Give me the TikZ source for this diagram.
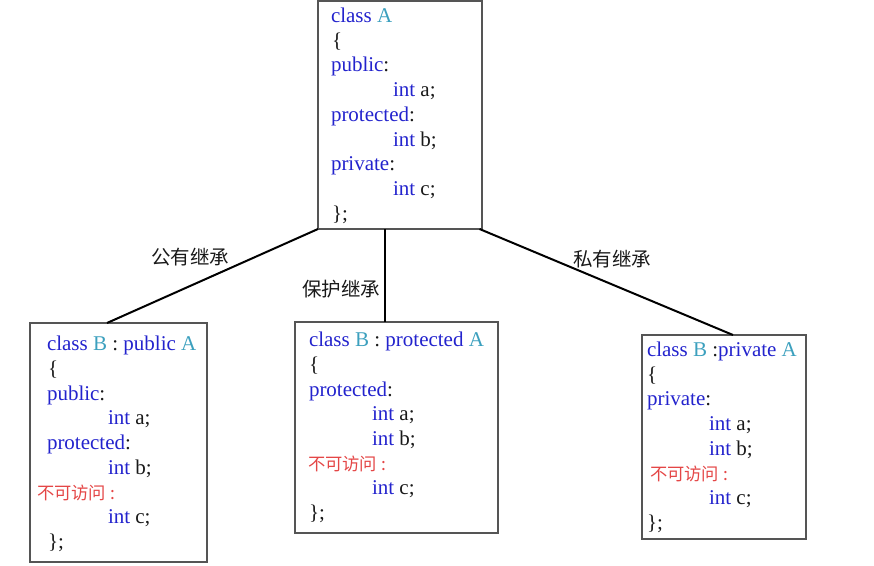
\documentclass[tikz,border=0pt]{standalone}
\usepackage{fontspec}
\setmainfont{Liberation Serif}
\newfontfamily\cjk{Noto Sans CJK SC}
\usetikzlibrary{calc}
\definecolor{kwc}{RGB}{35,35,205}
\definecolor{clsc}{RGB}{60,160,190}
\definecolor{inac}{RGB}{228,70,70}
\definecolor{txtc}{RGB}{25,25,25}
\definecolor{boxc}{RGB}{85,85,85}
\newcommand\KW[1]{\textcolor{kwc}{#1}}
\newcommand\CL[1]{\textcolor{clsc}{#1}}
\tikzset{
  classbox/.style={draw=boxc, line width=1.4pt, inner sep=0pt, outer sep=0pt, anchor=north west},
  codeline/.style={anchor=base west, inner sep=0pt, outer sep=0pt, text=txtc, font=\fontsize{21}{25}\selectfont},
  noaccess/.style={anchor=base west, inner sep=0pt, outer sep=0pt, text=inac, font=\cjk\fontsize{17.3}{20}\selectfont},
  edgelabel/.style={inner sep=0pt, text=txtc, font=\cjk\fontsize{19.5}{22}\selectfont},
  link/.style={draw=black, line width=2pt}
}
\begin{document}
\begin{tikzpicture}[x=1pt,y=-1pt]
\useasboundingbox (0,0) rectangle (874,565);
% boxes
\node[classbox, minimum width=164pt, minimum height=228pt] (A) at (318,1) {};
\node[classbox, minimum width=177pt, minimum height=239pt] (B1) at (30,323) {};
\node[classbox, minimum width=203pt, minimum height=211pt] (B2) at (295,322) {};
\node[classbox, minimum width=164pt, minimum height=204pt] (B3) at (642,335) {};
% class A
\node[codeline] (a1) at (331,22) {\KW{class} \CL{A}};
\node[codeline] (a2) at (332,47) {\{};
\node[codeline] (a3) at (331,71) {\KW{public}:};
\node[codeline] (a4) at (393,96) {\KW{int} a;};
\node[codeline] (a5) at (331,121) {\KW{protected}:};
\node[codeline] (a6) at (393,146) {\KW{int} b;};
\node[codeline] (a7) at (331,170) {\KW{private}:};
\node[codeline] (a8) at (393,195) {\KW{int} c;};
\node[codeline] (a9) at (332,220) {\};};
% B public
\node[codeline] (b1) at (47,350) {\KW{class} \CL{B} : \KW{public} \CL{A}};
\node[codeline] (b2) at (48,375) {\{};
\node[codeline] (b3) at (47,400) {\KW{public}:};
\node[codeline] (b4) at (108,424) {\KW{int} a;};
\node[codeline] (b5) at (47,449) {\KW{protected}:};
\node[codeline] (b6) at (108,474) {\KW{int} b;};
\node[noaccess] (b7) at (37,499) {不可访问 :};
\node[codeline] (b8) at (108,523) {\KW{int} c;};
\node[codeline] (b9) at (48,548) {\};};
% B protected
\node[codeline] (c1) at (309,346) {\KW{class} \CL{B} : \KW{protected} \CL{A}};
\node[codeline] (c2) at (309,371) {\{};
\node[codeline] (c3) at (309,396) {\KW{protected}:};
\node[codeline] (c4) at (372,420) {\KW{int} a;};
\node[codeline] (c5) at (372,445) {\KW{int} b;};
\node[noaccess] (c6) at (308,470) {不可访问 :};
\node[codeline] (c7) at (372,494) {\KW{int} c;};
\node[codeline] (c8) at (309,519) {\};};
% B private
\node[codeline] (d1) at (647,356) {\KW{class} \CL{B} :\KW{private} \CL{A}};
\node[codeline] (d2) at (647,381) {\{};
\node[codeline] (d3) at (647,405) {\KW{private}:};
\node[codeline] (d4) at (709,430) {\KW{int} a;};
\node[codeline] (d5) at (709,455) {\KW{int} b;};
\node[noaccess] (d6) at (650,480) {不可访问 :};
\node[codeline] (d7) at (709,504) {\KW{int} c;};
\node[codeline] (d8) at (647,529) {\};};
% connectors
\coordinate (sL) at (A.south west);
\coordinate (sM) at ($(A.south west)!0.41!(A.south east)$);
\coordinate (sR) at ($(A.south west)!0.985!(A.south east)$);
\coordinate (eL) at ($(B1.north west)!0.435!(B1.north east)$);
\coordinate (eR) at ($(B3.north west)!0.555!(B3.north east)$);
\draw[link] (sL) -- (eL);
\draw[link] (sM) -- (sM |- B2.north);
\draw[link] (sR) -- (eR);
% labels
\node[edgelabel] (l1) at (190,257) {公有继承};
\node[edgelabel] (l2) at (341,289) {保护继承};
\node[edgelabel] (l3) at (612,259) {私有继承};
\end{tikzpicture}
\end{document}
